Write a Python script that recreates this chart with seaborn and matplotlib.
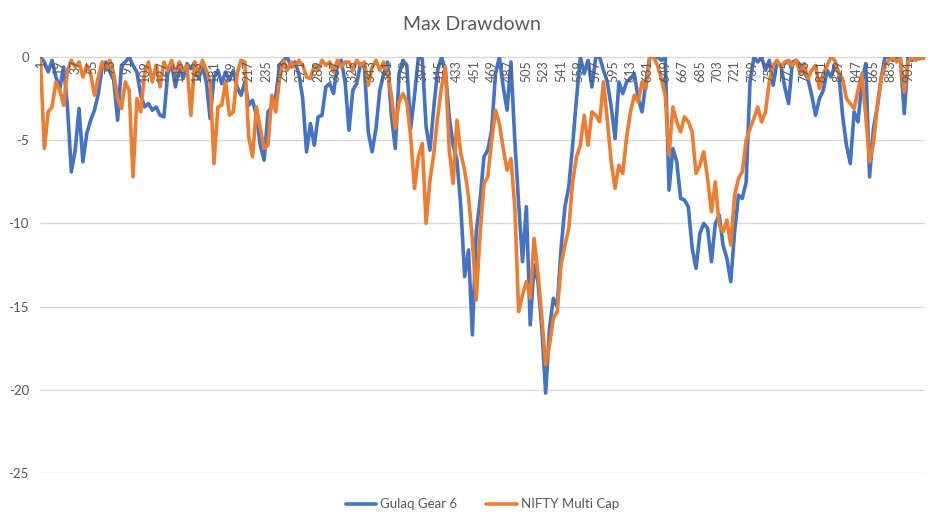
import numpy as np
import pandas as pd
import matplotlib
matplotlib.use("Agg")
import matplotlib.pyplot as plt
import seaborn as sns

sample_index = list(range(1, 918, 4))

gulaq_gear6 = [
    0, -0.3, -0.9, -0.2, -1.2, -1.9, -0.6, -3.0, -6.9, -5.6,
    -3.1, -6.3, -4.6, -3.8, -3.2, -2.2, -0.6, -0.3, -0.9, -1.4,
    -3.8, -0.5, -0.3, 0, -0.5, -0.9, -2.3, -3.0, -2.8, -3.2,
    -3.0, -3.5, -3.6, -1.0, -0.4, -1.8, -0.5, -1.3, -0.4, -0.7,
    -0.3, -1.3, -0.6, -1.5, -3.7, -1.2, -0.8, -1.6, -0.9, -1.4,
    -0.8, -1.8, -2.3, -1.5, -2.9, -2.6, -3.5, -5.3, -6.2, -3.3,
    -3.0, -2.4, -0.5, -0.2, 0, -0.6, -0.3, -1.0, -2.5, -5.7,
    -4.0, -5.3, -3.6, -3.5, -1.8, -1.6, -2.2, -0.4, -0.2, -1.5,
    -4.4, -2.0, -1.6, -0.4, -0.6, -4.5, -5.7, -4.3, -2.0, -1.0,
    -0.3, -3.5, -5.5, -1.0, -0.2, -0.5, -4.3, -2.3, 0, -0.1,
    -4.2, -5.6, -3.0, -0.8, 0, -0.8, -3.6, -5.3, -6.2, -9.0,
    -13.2, -11.6, -16.7, -10.5, -8.6, -6.0, -5.6, -4.4, -1.0, 0,
    -1.8, -3.2, -0.3, -5.0, -8.8, -12.3, -9.0, -16.1, -12.5, -13.5,
    -16.3, -20.2, -16.3, -14.5, -15.0, -11.5, -9.0, -7.8, -5.3, -2.5,
    0, -1.0, -0.2, -1.8, 0, 0, -0.8, -1.5, -3.0, -4.9,
    -1.5, -2.2, -1.5, -1.3, -1.0, -2.5, -3.3, -1.5, 0, 0,
    0, -0.2, 0, -8.0, -5.5, -6.3, -8.5, -8.6, -9.0, -11.5,
    -12.7, -10.6, -10.0, -10.3, -12.3, -10.0, -9.5, -11.3, -12.1, -13.5,
    -10.5, -8.3, -8.5, -7.5, -1.5, 0, -0.3, 0, -0.8, -0.2,
    -1.7, -0.3, -0.5, -1.8, -2.8, -0.3, -0.2, -0.5, -0.9, -1.3,
    -2.3, -3.5, -2.5, -2.0, -0.8, -1.2, -0.5, -0.9, -3.5, -5.3,
    -6.4, -3.3, -3.9, -1.5, -0.4, -7.2, -4.3, -3.0, -1.3, 0,
    0, -0.2, 0, -0.1, -3.4, 0, -0.2, 0, -0.1, 0,
]

nifty_multicap = [
    -0.2, -5.5, -3.3, -3.0, -1.5, -2.0, -2.9, -0.8, -0.2, -0.6,
    -0.3, -1.2, -0.5, -1.0, -2.3, -1.2, -0.3, -0.8, -0.2, -1.0,
    -2.5, -3.1, -1.5, -2.0, -7.2, -2.5, -3.3, -1.0, -0.3, -1.5,
    -0.5, -1.8, -0.3, -0.8, -0.2, -1.0, -0.3, -0.8, -0.5, -3.5,
    -0.3, -1.0, -0.2, -0.8, -1.5, -6.4, -3.0, -2.9, -1.5, -3.5,
    -3.3, -1.0, -0.2, -0.3, -4.8, -6.0, -3.0, -4.3, -5.5, -5.3,
    -2.3, -3.3, -1.3, -0.2, -0.8, -0.3, -0.6, -0.2, -0.5, -1.2,
    -1.3, -0.5, -0.8, -0.2, -0.5, -0.3, -0.9, -0.2, -0.6, -0.3,
    -0.3, -0.8, -0.2, -0.5, -0.3, -1.7, -0.6, -0.2, -0.8, -0.3,
    -0.9, -2.3, -4.3, -2.7, -2.2, -2.7, -4.8, -7.9, -6.0, -5.2,
    -10.0, -7.4, -5.8, -3.6, -1.8, -0.6, -5.6, -7.6, -3.8, -5.8,
    -6.8, -8.4, -11.0, -14.6, -10.6, -7.6, -7.2, -5.0, -3.2, -4.0,
    -5.5, -6.8, -6.1, -9.0, -15.3, -14.3, -13.5, -14.5, -10.9, -13.0,
    -15.6, -18.5, -17.3, -15.7, -15.3, -12.5, -11.3, -10.3, -7.5, -6.0,
    -5.3, -3.5, -5.3, -3.3, -3.5, -3.9, -1.5, -3.8, -6.3, -7.9,
    -6.5, -7.0, -4.8, -3.3, -2.3, -2.7, -1.5, -1.9, 0, 0,
    -0.5, -1.3, -2.3, -5.9, -3.0, -3.9, -4.5, -3.6, -3.9, -4.5,
    -7.0, -6.5, -5.7, -7.3, -9.3, -7.5, -10.1, -10.5, -9.8, -11.3,
    -8.3, -7.3, -6.9, -5.0, -4.3, -3.7, -3.0, -3.9, -3.3, -1.5,
    -0.5, -0.2, -0.6, -0.3, -0.2, -0.5, -0.2, -1.0, -0.4, -1.3,
    -0.8, -0.5, -1.9, -1.0, -0.5, 0, -0.2, -1.0, -1.3, -2.5,
    -2.8, -3.1, -2.0, -1.0, -3.5, -6.3, -5.2, -3.0, -1.3, -0.5,
    -0.2, 0, -0.3, -0.1, -2.1, -0.3, 0, -0.2, 0, -0.1,
]

series_names = ["Gulaq Gear 6", "NIFTY Multi Cap"]
x_tick_values = list(range(1, 902, 18))
y_tick_values = [0, -5, -10, -15, -20, -25]

# ---- styling ----
sns.set_theme(style="white")
plt.rcParams["font.family"] = ["Lato", "DejaVu Sans"]
TEXT = "#595959"
GRID = "#D9D9D9"
BLUE = "#4472C4"
ORANGE = "#ED7D31"

df = pd.DataFrame({
    "idx": sample_index * 2,
    "value": gulaq_gear6 + nifty_multicap,
    "series": [series_names[0]] * len(sample_index) + [series_names[1]] * len(sample_index),
})

fig = plt.figure(figsize=(9.43, 5.29), dpi=100)
ax = fig.add_axes([40 / 943, 1 - 473 / 529, (925 - 40) / 943, (473 - 57) / 529])

# horizontal gridlines behind the series
for v in y_tick_values[1:]:
    ax.axhline(v, color=GRID, linewidth=1.0, zorder=0)

sns.lineplot(data=df, x="idx", y="value", hue="series",
             palette={series_names[0]: BLUE, series_names[1]: ORANGE},
             linewidth=2.6, ax=ax, legend=True, sort=False, zorder=2)

# spines first (set_position resets tick properties)
for s in ["top", "right", "left"]:
    ax.spines[s].set_visible(False)
ax.spines["bottom"].set_position(("data", 0))
ax.spines["bottom"].set_color(GRID)
ax.spines["bottom"].set_linewidth(1.0)
ax.spines["bottom"].set_zorder(1)

ax.set_xlim(0.5, 918.5)
ax.set_ylim(-25, 0)
ax.set_yticks(y_tick_values)
ax.set_yticklabels([str(v) for v in y_tick_values])
ax.set_xticks(x_tick_values)
ax.set_xticklabels([str(v) for v in x_tick_values])
ax.tick_params(axis="x", length=0, pad=2, labelrotation=90, labelsize=9,
               labelcolor=TEXT)
ax.tick_params(axis="y", length=0, pad=8, labelsize=9.5, labelcolor=TEXT)
for lab in ax.get_xticklabels():
    lab.set_va("top")
ax.set_xlabel("")
ax.set_ylabel("")
ax.grid(False)
ax.set_axisbelow(False)

fig.text(0.5, 1 - 24 / 529, "Max Drawdown", ha="center", va="center",
         fontsize=14, color=TEXT)

handles, labels = ax.get_legend_handles_labels()
ax.legend(handles, labels, loc="center", bbox_to_anchor=(0.5, -0.075),
          ncol=2, frameon=False, fontsize=9.5, labelcolor=TEXT,
          handlelength=2.3, handletextpad=0.3, columnspacing=2.2)

fig.savefig("out.png", dpi=100)
